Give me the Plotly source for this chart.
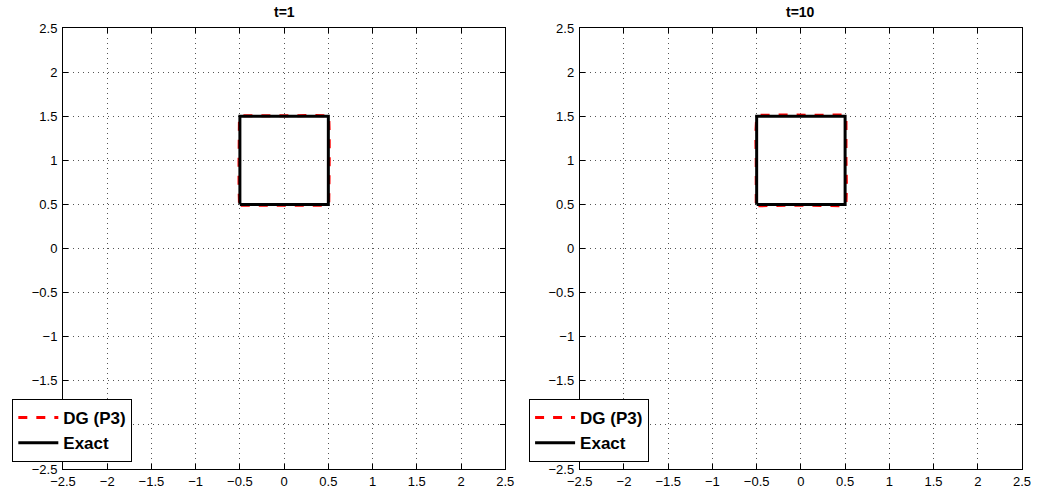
import plotly.graph_objects as go

# Exact solution: unit square
exact_x = [-0.5, 0.5, 0.5, -0.5, -0.5]
exact_y = [0.5, 0.5, 1.5, 1.5, 0.5]

# DG (P3) contour at t=1
dg1_x = [-0.49, -0.3, -0.1, 0.1, 0.3, 0.48, 0.505, 0.51, 0.51, 0.51, 0.505, 0.49, 0.3, 0.1, -0.1, -0.3, -0.48, -0.505, -0.51, -0.51, -0.51, -0.505, -0.49]
dg1_y = [0.49, 0.49, 0.495, 0.495, 0.49, 0.49, 0.51, 0.7, 1.0, 1.3, 1.49, 1.505, 1.51, 1.505, 1.505, 1.51, 1.505, 1.49, 1.3, 1.0, 0.7, 0.51, 0.49]

# DG (P3) contour at t=10
dg10_x = [-0.48, -0.3, -0.1, 0.1, 0.3, 0.48, 0.51, 0.515, 0.51, 0.515, 0.51, 0.49, 0.3, 0.1, -0.1, -0.3, -0.47, -0.5, -0.51, -0.505, -0.51, -0.505, -0.48]
dg10_y = [0.485, 0.49, 0.49, 0.49, 0.49, 0.485, 0.51, 0.7, 1.0, 1.3, 1.47, 1.515, 1.51, 1.51, 1.515, 1.51, 1.51, 1.48, 1.3, 1.0, 0.7, 0.51, 0.485]

titles = ["t=1", "t=10"]
tick_vals = [-2.5, -2, -1.5, -1, -0.5, 0, 0.5, 1, 1.5, 2, 2.5]
tick_text = ["\u22122.5", "\u22122", "\u22121.5", "\u22121", "\u22120.5", "0", "0.5", "1", "1.5", "2", "2.5"]

W, H = 1039, 493
ML, MR, MT, MB = 57, 17, 28, 24
PW = W - ML - MR
PH = H - MT - MB

fig = go.Figure()

dgs = [(dg1_x, dg1_y), (dg10_x, dg10_y)]
for i, (dx, dy) in enumerate(dgs):
    ax = "" if i == 0 else "2"
    leg = "legend" if i == 0 else "legend2"
    fig.add_trace(go.Scatter(x=dx, y=dy, mode="lines", name="DG (P3)",
                             line=dict(color="red", width=3, dash="dash"),
                             xaxis="x" + ax, yaxis="y" + ax, legend=leg))
    fig.add_trace(go.Scatter(x=exact_x, y=exact_y, mode="lines", name="Exact",
                             line=dict(color="black", width=3),
                             xaxis="x" + ax, yaxis="y" + ax, legend=leg))

axis_common = dict(range=[-2.5, 2.5], tickvals=tick_vals, ticktext=tick_text,
                   showline=True, linecolor="black", linewidth=1, mirror="ticks",
                   ticks="inside", ticklen=5, tickcolor="black", automargin=False,
                   showgrid=True, gridcolor="#555555", griddash="1px,4px", gridwidth=1,
                   zeroline=False, tickfont=dict(family="Liberation Sans, Arial", size=13, color="black"))

doms_x = [[0, (502 - ML) / PW], [(577 - ML) / PW, 1]]
dom_y = [0, 1]

legend_font = dict(family="Liberation Sans, Arial", size=17, color="black", weight="bold")
leg_bottom = 1 - (462 - MT) / PH
fig.update_layout(
    xaxis=dict(domain=doms_x[0], anchor="y", **axis_common),
    yaxis=dict(domain=dom_y, anchor="x", ticklabelstandoff=2, **axis_common),
    xaxis2=dict(domain=doms_x[1], anchor="y2", **axis_common),
    yaxis2=dict(domain=dom_y, anchor="x2", ticklabelstandoff=2, **axis_common),
    width=W, height=H,
    margin=dict(l=ML, r=MR, t=MT, b=MB),
    plot_bgcolor="white", paper_bgcolor="white",
    legend=dict(x=(6 - ML) / PW, y=leg_bottom, xanchor="left", yanchor="bottom",
                bgcolor="white", bordercolor="black", borderwidth=1,
                font=legend_font, tracegroupgap=0, itemwidth=40),
    legend2=dict(x=(526 - ML) / PW, y=leg_bottom, xanchor="left", yanchor="bottom",
                 bgcolor="white", bordercolor="black", borderwidth=1,
                 font=legend_font, tracegroupgap=0, itemwidth=40),
    showlegend=True,
)

for i, t in enumerate(titles):
    cx = (doms_x[i][0] + doms_x[i][1]) / 2
    fig.add_annotation(text=t, x=cx, y=1 + (MT - 12) / PH, xref="paper", yref="paper",
                       showarrow=False, xanchor="center", yanchor="middle",
                       font=dict(family="Liberation Sans, Arial", size=14, color="black", weight="bold"))

fig.write_html("out.html", config={"displayModeBar": False},
               post_script="document.body.style.margin='0';document.body.style.overflow='hidden';")
